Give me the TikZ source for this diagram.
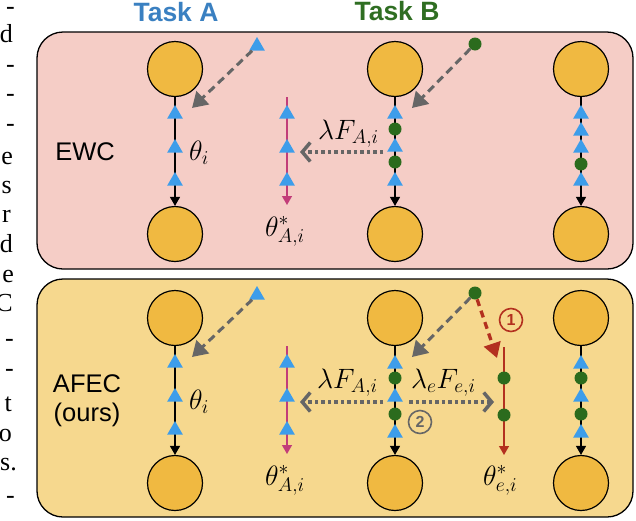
\RequirePackage{fix-cm}
\documentclass[tikz,border=0pt]{standalone}
\usepackage{fontspec}
\setsansfont{Liberation Sans}
\newfontfamily\fragfont{Liberation Serif}
\usetikzlibrary{arrows.meta,shapes.geometric}
\definecolor{pinkbg}{HTML}{F5CDC6}
\definecolor{yellowbg}{HTML}{F6D88E}
\definecolor{circ}{HTML}{F0B941}
\definecolor{triblue}{HTML}{3D9DEA}
\definecolor{dotgreen}{HTML}{2B6B1D}
\definecolor{taska}{HTML}{3A80C1}
\definecolor{taskb}{HTML}{2F6E22}
\definecolor{magent}{HTML}{C23D79}
\definecolor{redarr}{HTML}{B3301F}
\definecolor{arrgray}{HTML}{666666}
\begin{document}
\begin{tikzpicture}[x=1pt,y=-1pt,
  box/.style={draw, line width=1.3pt, rounded corners=26pt, inner sep=0},
  bigc/.style={circle, draw, line width=1.2pt, fill=circ, minimum size=55pt, inner sep=0},
  tri/.style={regular polygon, regular polygon sides=3, fill=triblue, minimum size=18pt, inner sep=0},
  gdot/.style={circle, fill=dotgreen, minimum size=13pt, inner sep=0},
  vline/.style={line width=1.3pt, -{Triangle[length=9pt,width=10pt]}},
  gdash/.style={draw=arrgray, line width=3pt, dash pattern=on 8pt off 5pt, -{Triangle[length=15pt,width=18pt]}},
  rdash/.style={draw=redarr, line width=3.3pt, dash pattern=on 7pt off 5pt, -{Triangle[length=15pt,width=17pt]}},
  gdotted/.style={draw=arrgray, line width=3.5pt, dash pattern=on 3.5pt off 3pt, -{Straight Barb[length=8pt,width=19pt]}},
  sflab/.style={font=\sffamily\fontsize{25.5}{30}\selectfont, inner sep=0, anchor=base},
  mlab/.style={font=\fontsize{28}{32}\selectfont, inner sep=0, anchor=base west},
  title/.style={font=\sffamily\bfseries\fontsize{26.5}{30}\selectfont, inner sep=0, anchor=base},
  num/.style={circle, draw, line width=1.6pt, minimum size=23pt, inner sep=0, font=\sffamily\bfseries\fontsize{16}{16}\selectfont},
  frag/.style={font=\fragfont\fontsize{26}{30}\selectfont, anchor=base east, inner sep=0}
]
\useasboundingbox (0,0) rectangle (636,520);

% fragments of the neighbouring text column
\begin{scope}
\clip (0,0) rectangle (18,520);
\node[frag] (f1) at (15,14) {-};
\node[frag] (f2) at (13,42) {d};
\node[frag] (f3) at (15,72) {-};
\node[frag] (f4) at (15,101) {-};
\node[frag] (f5) at (15,131) {-};
\node[frag] (f6) at (13,164) {e};
\node[frag] (f7) at (12,193) {s};
\node[frag] (f8) at (11,222) {r};
\node[frag] (f9) at (13,252) {d};
\node[frag] (f10) at (14,282) {e};
\node[frag] (f11) at (13,311) {C};
\node[frag] (f12) at (14,346) {-};
\node[frag] (f13) at (14,376) {-};
\node[frag] (f14) at (12,411) {t};
\node[frag] (f15) at (12,441) {o};
\node[frag] (f16) at (17,470) {s.};
\node[frag] (f17) at (15,503) {-};
\end{scope}

% titles
\node[title, text=taska] (ta) at (176,21) {Task A};
\node[title, text=taskb] (tb) at (397,20) {Task B};

% boxes
\node[box, fill=pinkbg, minimum width=596pt, minimum height=237pt] (ewcbox) at (335,150.5) {};
\node[box, fill=yellowbg, minimum width=596pt, minimum height=238pt] (afecbox) at (335,398) {};

% ================= EWC =================
\node[sflab] (ewc) at (85,160) {EWC};

\node[bigc] (e1t) at (175,69) {};
\node[bigc] (e1b) at (175,234) {};
\node[bigc] (e2t) at (395,69) {};
\node[bigc] (e2b) at (395,234) {};
\node[bigc] (e3t) at (581,69) {};
\node[bigc] (e3b) at (581,234) {};

\draw[vline] (e1t.south) -- (e1b.north);
\draw[vline] (e2t.south) -- (e2b.north);
\draw[vline] (e3t.south) -- (e3b.north);

\node[tri] (e1m1) at (175,114) {};
\node[tri] (e1m2) at (175,148) {};
\node[tri] (e1m3) at (175,181) {};

\node[tri] (e2m1) at (395,114) {};
\node[gdot] (e2m2) at (395,129) {};
\node[tri] (e2m3) at (395,147) {};
\node[gdot] (e2m4) at (395,162) {};
\node[tri] (e2m5) at (395,181) {};

\node[tri] (e3m1) at (581,114) {};
\node[tri] (e3m2) at (581,131) {};
\node[tri] (e3m3) at (581,148) {};
\node[gdot] (e3m4) at (581,164) {};
\node[tri] (e3m5) at (581,181) {};

% theta_A* line
\coordinate (ema) at (287,97);
\coordinate (emb) at (287,205);
\draw[vline, draw=magent, fill=magent] (ema) -- (emb);
\node[tri] (emm1) at (287,114) {};
\node[tri] (emm2) at (287,148) {};
\node[tri] (emm3) at (287,181) {};

% incoming dashed arrows
\node[tri] (ein1) at (257,46) {};
\coordinate (etip1) at (192,108);
\draw[gdash] (ein1) -- (etip1);
\node[gdot] (ein2) at (475,44) {};
\coordinate (etip2) at (412,108);
\draw[gdash] (ein2) -- (etip2);

% dotted arrow
\coordinate (edf) at (383,152);
\coordinate (edt) at (300,152);
\draw[gdotted] (edf) -- (edt);

% labels
\node[mlab] (eth) at (189,160) {$\theta_i$};
\node[mlab] (elf) at (318,139) {$\lambda F_{A,i}$};
\node[mlab] (eths) at (265,236) {$\theta^*_{A,i}$};

% ================= AFEC =================
\node[sflab] (afec1) at (87,392) {AFEC};
\node[sflab] (afec2) at (87,421) {(ours)};

\node[bigc] (a1t) at (175,318) {};
\node[bigc] (a1b) at (175,483) {};
\node[bigc] (a2t) at (395,318) {};
\node[bigc] (a2b) at (395,483) {};
\node[bigc] (a3t) at (581,318) {};
\node[bigc] (a3b) at (581,483) {};

\draw[vline] (a1t.south) -- (a1b.north);
\draw[vline] (a2t.south) -- (a2b.north);
\draw[vline] (a3t.south) -- (a3b.north);

\node[tri] (a1m1) at (175,363) {};
\node[tri] (a1m2) at (175,397) {};
\node[tri] (a1m3) at (175,430) {};

\node[tri] (a2m1) at (395,364) {};
\node[gdot] (a2m2) at (395,378) {};
\node[tri] (a2m3) at (395,397) {};
\node[gdot] (a2m4) at (395,414) {};
\node[tri] (a2m5) at (395,433) {};

\node[tri] (a3m1) at (581,364) {};
\node[gdot] (a3m2) at (581,378) {};
\node[tri] (a3m3) at (581,397) {};
\node[gdot] (a3m4) at (581,414) {};
\node[tri] (a3m5) at (581,433) {};

% theta_A* line
\coordinate (ama) at (287,346);
\coordinate (amb) at (287,454);
\draw[vline, draw=magent, fill=magent] (ama) -- (amb);
\node[tri] (amm1) at (287,363) {};
\node[tri] (amm2) at (287,397) {};
\node[tri] (amm3) at (287,430) {};

% theta_e* line
\coordinate (ara) at (504,347);
\coordinate (arb) at (504,455);
\draw[vline, draw=redarr, fill=redarr] (ara) -- (arb);
\node[gdot] (arm1) at (504,378) {};
\node[gdot] (arm2) at (504,415) {};

% incoming dashed arrows
\node[tri] (ain1) at (257,295) {};
\coordinate (atip1) at (192,357);
\draw[gdash] (ain1) -- (atip1);
\node[gdot] (ain2) at (475,293) {};
\coordinate (atip2) at (412,357);
\draw[gdash] (ain2) -- (atip2);
\coordinate (atip3) at (497,358);
\draw[rdash] (ain2) -- (atip3);

% dotted arrows
\coordinate (adf) at (383,402);
\coordinate (adt) at (300,402);
\draw[gdotted] (adf) -- (adt);
\coordinate (adf2) at (409,402);
\coordinate (adt2) at (494,402);
\draw[gdotted] (adf2) -- (adt2);

% circled numbers
\node[num, draw=redarr, text=redarr] (n1) at (511,320) {1};
\node[num, draw=arrgray, text=arrgray] (n2) at (420,422) {2};

% labels
\node[mlab] (ath) at (189,409) {$\theta_i$};
\node[mlab] (alf) at (317,388) {$\lambda F_{A,i}$};
\node[mlab] (alef) at (411,388) {$\lambda_e F_{e,i}$};
\node[mlab] (aths) at (265,485) {$\theta^*_{A,i}$};
\node[mlab] (athe) at (483,485) {$\theta^*_{e,i}$};
\end{tikzpicture}
\end{document}
